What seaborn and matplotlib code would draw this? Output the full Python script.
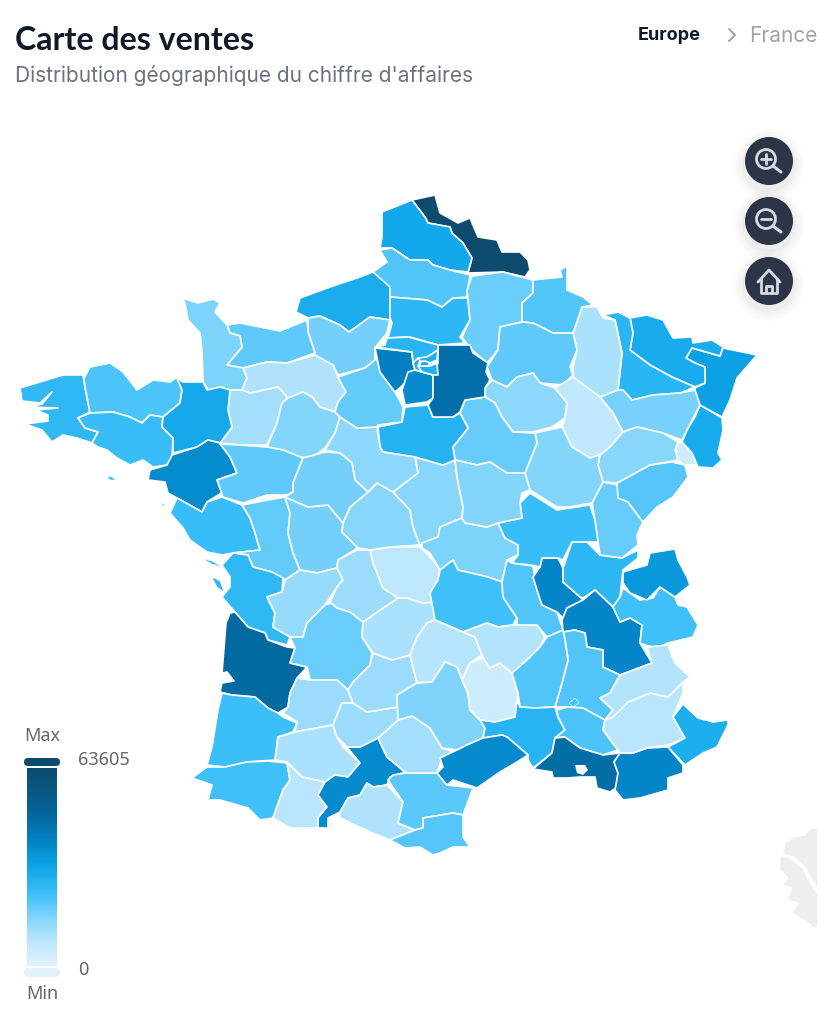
# sales_map.py

import numpy as np
import pandas as pd
import matplotlib.pyplot as plt
from matplotlib.patches import Circle, FancyBboxPatch, Polygon
import seaborn as sns

# Sales per department
departments = ["Nord", "Pas-de-Calais", "Somme", "Oise", "Aisne", "Seine-Maritime", "Eure", "Calvados",
               "Manche", "Orne", "Mayenne", "Sarthe", "Finistere", "Cotes-d'Armor", "Morbihan",
               "Ille-et-Vilaine", "Loire-Atlantique", "Maine-et-Loire", "Vendee", "Deux-Sevres", "Vienne",
               "Charente-Maritime", "Charente", "Gironde", "Dordogne", "Landes", "Pyrenees-Atlantiques",
               "Lot-et-Garonne", "Gers", "Hautes-Pyrenees", "Haute-Garonne", "Ariege", "Aude",
               "Pyrenees-Orientales", "Tarn", "Tarn-et-Garonne", "Lot", "Correze", "Haute-Vienne", "Creuse",
               "Indre", "Cher", "Allier", "Puy-de-Dome", "Cantal", "Aveyron", "Lozere", "Haute-Loire", "Loire",
               "Rhone", "Ain", "Saone-et-Loire", "Jura", "Doubs", "Belfort", "Haut-Rhin", "Bas-Rhin", "Moselle",
               "Meurthe-et-Moselle", "Vosges", "Meuse", "Ardennes", "Marne", "Aube", "Haute-Marne",
               "Haute-Saone", "Cote-d'Or", "Yonne", "Nievre", "Loiret", "Loir-et-Cher", "Indre-et-Loire",
               "Eure-et-Loir", "Yvelines", "Essonne", "Seine-et-Marne", "Val-d'Oise", "Seine-Saint-Denis",
               "Hauts-de-Seine", "Val-de-Marne", "Paris", "Isere", "Savoie", "Haute-Savoie", "Drome", "Ardeche",
               "Gard", "Herault", "Vaucluse", "Bouches-du-Rhone", "Var", "Alpes-de-Haute-Provence",
               "Hautes-Alpes", "Alpes-Maritimes"]
sales = [63605, 31000, 21000, 26000, 18000, 29500, 17000, 19500,
         16000, 9500, 11000, 15000, 25500, 21500, 24000,
         30500, 38000, 19500, 24000, 19000, 17000,
         25500, 12500, 47700, 18000, 23500, 23000,
         12000, 10000, 8000, 38500, 9500, 20000,
         20500, 11000, 12000, 12000, 10000, 12000, 7500,
         14500, 14500, 16000, 23000, 8500, 15500, 4000, 9000, 21000,
         39500, 26000, 24000, 18500, 20500, 4000, 30000, 33000, 30000,
         26500, 16500, 10000, 21000, 19500, 14000, 7000,
         14500, 15000, 18500, 15000, 27500, 14000, 17000,
         19000, 41000, 38500, 45800, 26700, 28000,
         28000, 28000, 30000, 39500, 23000, 35000, 21000, 21000,
         27000, 38500, 21500, 46500, 39500, 8000,
         9000, 29000]
value_min = 0
value_max = 63605

# Department outlines
outlines = {
    "Nord": [(412,200),(435,195),(440,213),(458,223),(470,218),(478,237),(497,240),(502,252),(520,252),(528,260),(530,270),(525,277),(503,272),(468,273),(472,258),(463,243),(452,233),(450,227),(428,223),(425,217)],
    "Pas-de-Calais": [(382,212),(412,200),(425,217),(428,223),(450,227),(452,233),(463,243),(472,258),(468,272),(450,270),(433,265),(428,260),(410,260),(392,248),(380,248),(382,237)],
    "Somme": [(380,250),(392,248),(410,260),(428,260),(433,265),(450,270),(470,275),(467,297),(453,298),(442,307),(427,300),(390,297),(373,272),(387,262)],
    "Oise": [(390,297),(427,300),(442,307),(453,298),(468,298),(470,320),(460,337),(465,343),(438,345),(410,337),(388,338),(392,323),(388,313)],
    "Aisne": [(472,276),(503,272),(533,280),(533,293),(522,303),(522,322),(500,327),(498,350),(487,363),(470,348),(462,337),(470,320),(467,290)],
    "Seine-Maritime": [(296,312),(300,298),(330,287),(357,278),(373,272),(390,287),(390,320),(370,317),(349,332),(340,325),(320,316),(308,318)],
    "Eure": [(308,318),(320,316),(340,325),(349,332),(370,317),(390,320),(387,333),(375,348),(375,360),(365,368),(338,375),(333,365),(315,357),(315,353),(308,332)],
    "Calvados": [(227,325),(240,323),(280,331),(307,320),(308,332),(315,353),(287,363),(267,362),(243,368),(227,365),(242,347),(240,336),(230,333)],
    "Manche": [(182,298),(198,303),(213,299),(220,303),(215,312),(227,325),(230,333),(240,336),(242,347),(227,365),(243,368),(247,378),(242,390),(230,390),(220,387),(210,392),(203,382),(202,350),(200,333),(188,320),(185,303)],
    "Orne": [(243,368),(267,362),(287,363),(315,355),(333,365),(338,377),(346,392),(338,402),(335,412),(320,407),(312,397),(303,392),(288,398),(278,387),(250,393),(242,390),(247,378)],
    "Mayenne": [(230,390),(242,390),(250,393),(278,387),(288,398),(282,403),(277,423),(267,445),(240,445),(220,443),(232,427),(228,410)],
    "Sarthe": [(288,398),(303,392),(312,397),(320,407),(335,412),(340,417),(335,433),(325,448),(312,458),(297,457),(283,450),(267,447),(277,423),(282,403)],
    "Finistere": [(20,388),(63,375),(83,375),(85,387),(90,412),(78,418),(85,428),(98,432),(92,443),(77,438),(63,435),(52,442),(42,430),(25,424),(48,421),(48,415),(36,410),(58,408),(30,407),(42,404),(52,392),(40,403),(22,401)],
    "Cotes-d'Armor": [(84,378),(90,367),(110,363),(123,372),(137,390),(153,380),(170,382),(177,377),(182,390),(180,403),(163,417),(150,415),(142,423),(130,417),(113,412),(90,413),(85,387)],
    "Morbihan": [(78,418),(90,413),(113,412),(130,417),(142,423),(150,415),(163,417),(162,427),(173,438),(172,457),(167,465),(153,467),(143,460),(130,465),(117,458),(107,450),(98,447),(92,443),(98,432),(85,428)],
    "Ille-et-Vilaine": [(177,378),(183,382),(203,382),(207,390),(220,387),(230,390),(228,410),(232,427),(220,443),(208,440),(197,447),(173,453),(173,438),(162,427),(163,417),(180,403),(182,390)],
    "Loire-Atlantique": [(172,455),(197,447),(208,440),(220,443),(230,457),(237,473),(217,480),(223,492),(207,502),(202,512),(195,508),(177,498),(168,493),(165,482),(148,480),(150,470),(167,465)],
    "Maine-et-Loire": [(220,444),(240,445),(267,447),(283,450),(303,458),(293,483),(293,492),(287,495),(267,495),(243,503),(223,497),(217,480),(237,473),(230,457)],
    "Vendee": [(170,513),(177,498),(195,508),(202,512),(207,502),(222,497),(242,505),(250,518),(255,533),(260,550),(233,553),(222,555),(207,552),(190,540),(183,528)],
    "Deux-Sevres": [(242,505),(268,500),(285,497),(290,513),(288,533),(293,553),(300,570),(285,580),(272,572),(253,567),(248,555),(233,553),(260,550),(255,533),(250,518)],
    "Vienne": [(285,497),(308,507),(328,505),(343,523),(342,532),(358,548),(338,560),(337,568),(317,573),(300,570),(293,553),(288,533),(290,513)],
    "Charente-Maritime": [(233,553),(248,555),(253,567),(272,572),(283,578),(282,592),(267,597),(275,613),(273,627),(290,637),(287,645),(268,640),(265,633),(248,627),(235,612),(222,597),(230,587),(230,577),(222,565)],
    "Charente": [(267,597),(282,592),(285,580),(300,570),(317,573),(337,568),(343,580),(337,587),(325,605),(307,623),(303,637),(290,637),(273,627),(275,613)],
    "Gironde": [(230,613),(235,612),(248,627),(265,633),(268,640),(287,647),(295,648),(290,663),(307,667),(297,678),(290,693),(288,707),(278,713),(268,708),(255,697),(232,695),(220,692),(222,683),(234,681),(227,672),(222,673),(226,623)],
    "Dordogne": [(290,637),(303,637),(307,623),(325,605),(332,603),(337,608),(350,612),(363,622),(362,637),(372,653),(370,665),(353,682),(348,690),(337,680),(310,680),(307,667),(290,663),(295,648)],
    "Landes": [(222,693),(232,695),(255,697),(268,708),(278,713),(283,717),(297,723),(293,732),(278,737),(275,760),(247,762),(225,767),(207,765),(212,747),(218,710)],
    "Pyrenees-Atlantiques": [(207,767),(225,767),(247,762),(268,761),(287,763),(290,780),(283,790),(273,818),(260,820),(248,808),(220,800),(208,800),(212,785),(192,778)],
    "Lot-et-Garonne": [(283,713),(288,707),(290,693),(297,678),(310,680),(337,680),(348,690),(353,703),(342,703),(333,725),(295,732),(297,722)],
    "Gers": [(278,737),(295,732),(333,725),(337,737),(343,747),(360,763),(348,777),(335,775),(325,782),(302,777),(287,762),(275,760)],
    "Hautes-Pyrenees": [(287,763),(302,777),(325,782),(318,795),(327,807),(318,818),(318,828),(290,828),(273,818),(283,790),(290,780)],
    "Haute-Garonne": [(347,747),(360,747),(378,738),(387,757),(405,772),(390,777),(387,785),(373,787),(367,783),(360,795),(348,798),(340,812),(328,818),(328,828),(318,828),(318,818),(327,807),(318,795),(325,782),(335,775),(348,777),(360,763)],
    "Ariege": [(340,812),(348,798),(360,795),(367,783),(373,787),(387,785),(403,802),(398,823),(415,830),(390,840),(370,832),(340,818)],
    "Aude": [(388,780),(393,775),(407,773),(437,773),(447,785),(473,788),(463,815),(453,813),(423,818),(423,828),(415,830),(398,823),(403,802)],
    "Pyrenees-Orientales": [(423,818),(453,813),(463,815),(463,837),(470,847),(453,847),(440,853),(433,855),(420,847),(405,848),(390,840),(415,830),(423,828)],
    "Tarn": [(378,738),(398,720),(412,716),(430,728),(442,748),(457,753),(442,758),(437,773),(407,773),(405,772),(387,757)],
    "Tarn-et-Garonne": [(333,725),(342,703),(353,703),(367,712),(380,710),(397,707),(400,718),(398,720),(378,738),(360,747),(347,747),(337,737)],
    "Lot": [(348,690),(353,682),(370,665),(373,653),(392,660),(410,655),(417,683),(397,695),(397,707),(380,710),(367,712),(353,703)],
    "Correze": [(363,622),(380,610),(398,598),(407,598),(423,603),(433,602),(435,620),(427,623),(417,637),(410,655),(392,660),(373,653),(362,637)],
    "Haute-Vienne": [(337,587),(343,580),(337,568),(338,560),(357,550),(370,550),(373,563),(383,588),(398,598),(380,610),(363,622),(350,612),(337,608),(330,602)],
    "Creuse": [(370,550),(390,547),(420,547),(433,560),(440,570),(438,580),(430,593),(433,602),(423,603),(407,598),(398,598),(383,588),(373,563)],
    "Indre": [(368,492),(377,483),(393,492),(410,510),(413,527),(420,545),(390,547),(370,550),(358,548),(342,532),(343,523),(350,507)],
    "Cher": [(415,457),(443,465),(455,460),(457,477),(463,507),(462,518),(440,527),(438,537),(420,545),(413,527),(410,510),(393,492),(418,473)],
    "Allier": [(422,543),(438,537),(440,527),(462,518),(465,523),(487,527),(498,523),(505,538),(518,545),(518,555),(507,560),(502,582),(488,577),(458,570),(453,560),(440,570),(430,553),(422,548)],
    "Puy-de-Dome": [(440,570),(453,560),(458,570),(488,577),(502,582),(503,597),(517,618),(513,625),(498,627),(487,623),(463,632),(435,620),(430,593),(438,580)],
    "Cantal": [(410,655),(417,637),(427,623),(435,620),(463,632),(475,637),(482,655),(470,663),(462,680),(457,667),(445,662),(432,682),(417,683)],
    "Aveyron": [(417,683),(432,682),(445,662),(457,667),(462,680),(468,693),(470,710),(480,720),(485,728),(483,738),(467,745),(457,750),(442,748),(430,728),(412,716),(398,720),(397,695)],
    "Lozere": [(462,680),(470,663),(483,658),(490,668),(500,663),(512,673),(518,693),(515,717),(495,722),(480,720),(470,710),(468,693)],
    "Haute-Loire": [(463,632),(487,623),(498,627),(513,625),(537,625),(545,637),(540,647),(527,660),(512,673),(500,663),(490,668),(483,658),(482,655),(475,637)],
    "Loire": [(502,582),(507,560),(512,563),(533,566),(537,590),(542,605),(557,612),(563,630),(547,637),(537,625),(517,625),(517,618),(503,597)],
    "Rhone": [(542,558),(558,558),(563,568),(563,582),(580,597),(583,600),(567,608),(563,618),(557,612),(542,605),(537,590),(533,577),(540,567)],
    "Ain": [(572,542),(587,542),(600,555),(622,558),(638,550),(638,558),(623,570),(620,597),(613,607),(595,590),(583,598),(580,597),(563,582),(563,568)],
    "Saone-et-Loire": [(498,523),(522,518),(520,503),(530,493),(557,510),(590,505),(595,520),(600,542),(587,542),(572,542),(563,560),(558,558),(542,558),(540,567),(530,565),(512,563),(518,555),(518,545),(505,538)],
    "Jura": [(592,503),(603,482),(618,485),(623,498),(628,502),(643,522),(637,535),(638,545),(622,558),(600,555),(595,520)],
    "Doubs": [(617,483),(650,465),(672,462),(685,465),(688,477),(673,497),(657,507),(643,522),(628,502),(618,498)],
    "Belfort": [(675,443),(682,442),(692,453),(697,465),(685,465),(677,460)],
    "Haut-Rhin": [(700,405),(722,418),(723,430),(718,453),(722,460),(713,468),(698,467),(692,453),(682,442),(687,430),(695,417)],
    "Bas-Rhin": [(723,348),(757,355),(737,378),(730,400),(722,417),(700,405),(695,398),(695,388),(705,383),(705,367),(695,363),(686,358),(692,348),(720,356)],
    "Moselle": [(630,318),(647,315),(663,320),(673,338),(692,337),(693,343),(712,340),(723,347),(720,356),(692,348),(686,358),(695,363),(705,367),(705,383),(695,387),(672,377),(650,365),(630,350),(633,333)],
    "Meurthe-et-Moselle": [(603,315),(618,312),(630,318),(633,333),(630,350),(650,365),(672,377),(695,387),(680,393),(653,395),(632,400),(623,390),(618,390),(622,353),(615,320)],
    "Vosges": [(600,397),(618,390),(623,390),(632,400),(653,395),(680,393),(695,390),(700,405),(687,430),(682,440),(663,433),(637,427),(623,432),(613,413)],
    "Meuse": [(582,307),(597,307),(603,318),(615,320),(622,353),(618,390),(600,397),(573,380),(573,367),(577,350),(573,333)],
    "Ardennes": [(533,280),(562,277),(560,270),(567,266),(567,290),(583,297),(593,305),(582,307),(573,333),(553,333),(533,323),(522,322),(522,303),(533,293)],
    "Marne": [(500,327),(522,322),(533,323),(553,333),(573,333),(577,350),(570,367),(573,375),(563,385),(540,383),(533,373),(517,377),(507,387),(492,380),(487,367),(498,350)],
    "Aube": [(485,388),(492,380),(507,387),(517,377),(533,373),(540,383),(555,388),(567,403),(565,418),(552,427),(533,432),(513,432),(502,417),(495,403),(485,397)],
    "Haute-Marne": [(555,388),(573,377),(600,397),(613,413),(623,432),(610,447),(600,455),(590,458),(572,447),(562,427),(565,418),(567,403)],
    "Haute-Saone": [(623,432),(637,427),(663,433),(678,442),(675,450),(678,460),(650,465),(617,483),(603,482),(598,465),(600,455),(610,447)],
    "Cote-d'Or": [(535,433),(562,427),(572,447),(590,458),(600,455),(598,465),(603,482),(592,503),(570,507),(557,507),(530,490),(525,473),(537,443)],
    "Yonne": [(465,400),(485,397),(495,403),(502,417),(513,432),(535,433),(537,443),(525,473),(507,473),(490,462),(477,465),(455,460),(453,447),(468,428),(460,413)],
    "Nievre": [(455,460),(477,465),(490,462),(507,473),(525,473),(530,490),(522,493),(520,503),(522,518),(498,523),(487,527),(465,523),(462,518),(463,507),(457,477)],
    "Loiret": [(378,427),(402,422),(405,407),(428,405),(433,417),(453,417),(460,413),(468,428),(453,447),(455,460),(443,465),(415,457),(383,452),(380,447)],
    "Loir-et-Cher": [(325,450),(335,433),(340,417),(357,428),(377,427),(380,447),(383,452),(415,457),(418,473),(393,492),(377,483),(368,492),(355,480),(352,463),(340,453)],
    "Indre-et-Loire": [(303,458),(325,452),(340,453),(352,463),(355,480),(368,492),(350,507),(343,523),(328,505),(308,507),(285,497),(293,492),(293,483)],
    "Eure-et-Loir": [(338,377),(365,368),(375,360),(375,350),(380,372),(395,392),(403,407),(402,422),(378,425),(377,427),(357,428),(340,417),(335,412),(338,402),(346,392)],
    "Yvelines": [(375,348),(412,352),(413,363),(415,370),(403,385),(395,392),(380,372)],
    "Essonne": [(408,372),(415,370),(433,375),(433,398),(427,402),(405,405),(402,390)],
    "Seine-et-Marne": [(438,345),(470,345),(473,353),(488,363),(486,372),(490,380),(485,388),(485,397),(465,400),(460,412),(453,417),(433,417),(428,405),(433,398),(433,375),(438,363)],
    "Val-d'Oise": [(387,338),(408,337),(438,345),(438,350),(427,357),(413,363),(412,352),(375,347),(385,345)],
    "Seine-Saint-Denis": [(418,358),(427,357),(438,350),(437,360),(430,363),(420,361)],
    "Hauts-de-Seine": [(413,363),(418,358),(420,361),(418,366),(422,372),(415,370)],
    "Val-de-Marne": [(422,372),(418,366),(430,366),(437,363),(438,375),(433,375)],
    "Paris": [(420,362),(425,361),(430,363),(428,366),(420,366)],
    "Isere": [(595,590),(613,607),(620,622),(630,618),(642,625),(640,643),(652,663),(620,675),(603,667),(603,650),(587,647),(585,633),(575,630),(563,632),(562,620),(567,608),(583,600)],
    "Savoie": [(613,607),(620,597),(623,588),(640,600),(653,598),(660,587),(675,597),(678,605),(687,607),(698,625),(693,637),(668,643),(657,648),(645,645),(640,643),(642,625),(630,618),(620,622)],
    "Haute-Savoie": [(623,572),(647,565),(650,553),(675,549),(678,560),(687,577),(690,585),(675,597),(660,587),(647,600),(630,593),(623,583)],
    "Drome": [(563,632),(575,630),(585,633),(587,647),(603,650),(603,667),(620,675),(610,693),(600,698),(613,710),(605,720),(583,708),(567,707),(555,707),(562,683),(568,660),(565,640)],
    "Ardeche": [(547,637),(563,630),(565,640),(568,660),(562,683),(555,707),(535,708),(520,707),(518,693),(512,673),(527,660),(540,647)],
    "Gard": [(480,720),(495,722),(515,717),(517,700),(520,707),(535,708),(555,707),(558,717),(565,730),(555,738),(552,753),(533,768),(528,760),(528,755),(507,737),(502,735),(483,738),(485,728)],
    "Herault": [(440,758),(457,750),(467,745),(483,738),(502,735),(507,737),(528,755),(517,762),(500,772),(477,788),(453,780),(447,785),(437,773),(443,767)],
    "Vaucluse": [(557,710),(567,707),(583,708),(605,720),(603,730),(618,750),(603,755),(580,748),(565,737),(555,738),(565,730),(558,717)],
    "Bouches-du-Rhone": [(533,769),(552,753),(555,738),(565,737),(580,748),(603,755),(620,753),(614,762),(618,773),(617,787),(610,792),(597,788),(595,777),(580,777),(567,778),(553,778),(552,772)],
    "Var": [(620,753),(633,753),(647,748),(668,747),(683,765),(683,773),(668,778),(668,790),(640,798),(623,800),(615,790),(618,773),(614,762)],
    "Alpes-de-Haute-Provence": [(605,720),(613,717),(628,702),(650,693),(668,697),(683,682),(683,693),(673,717),(685,738),(668,745),(647,748),(633,753),(620,753),(603,730)],
    "Hautes-Alpes": [(620,675),(652,663),(647,647),(668,645),(675,663),(690,677),(683,682),(668,697),(650,693),(628,702),(613,717),(605,720),(613,710),(600,698),(610,693)],
    "Alpes-Maritimes": [(683,704),(698,718),(713,722),(728,720),(728,725),(717,747),(703,753),(685,765),(668,747),(685,738),(673,717)],
}

# Islands and enclaves, with the department they belong to
islands = [
    ("Morbihan", [(107,476),(112,477),(116,480),(110,480)]),
    ("Charente-Maritime", [(212,577),(220,581),(224,592),(217,587)]),
    ("Charente-Maritime", [(203,559),(212,561),(222,567),(212,564)]),
    ("Vendee", [(161,503),(164,504),(164,507)]),
    ("Vaucluse", [(569,703),(575,698),(579,703),(573,707)]),
]
etang_berre = [(575,765),(585,765),(588,770),(583,775),(577,773)]
corsica = [
    [(818,828),(810,828),(805,835),(793,837),(785,843),(783,852),(780,853),(793,857),(805,867),(812,880),(818,890)],
    [(780,855),(790,858),(803,868),(810,882),(818,895),(818,928),(813,928),(808,923),(792,913),(798,903),(787,900),(792,888),(782,885),(788,878),(780,870),(780,863)],
]

# Colour scale of the visual map, bottom to top
scale_colors = ["#e0f2fe", "#bae6fd", "#7dd3fc", "#38bdf8", "#0ea5e9", "#0284c7", "#0369a1", "#075985", "#0c4a6e"]

df = pd.DataFrame({"department": departments, "sales": sales})
sales_by_department = dict(zip(departments, sales))

sns.set_theme(style="white")
plt.rcParams["font.family"] = ["Inter", "DejaVu Sans"]
cmap = sns.blend_palette(scale_colors, n_colors=256, as_cmap=True)


def sales_color(value):
    return cmap((value - value_min) / (value_max - value_min))


fig = plt.figure(figsize=(8.38, 10.11), dpi=100, facecolor="white")
ax = fig.add_axes([0, 0, 1, 1])
ax.set_xlim(0, 838)
ax.set_ylim(1011, 0)
ax.axis("off")

# Departments
for row in df.itertuples():
    ax.add_patch(Polygon(outlines[row.department], closed=True, facecolor=sales_color(row.sales),
                         edgecolor="white", linewidth=1.2, joinstyle="round"))
for name, part in islands:
    ax.add_patch(Polygon(part, closed=True, facecolor=sales_color(sales_by_department[name]),
                         edgecolor="white", linewidth=0.4))
ax.add_patch(Polygon(etang_berre, closed=True, facecolor="white", edgecolor="none"))
for part in corsica:
    ax.add_patch(Polygon(part, closed=True, facecolor="#eeeeee", edgecolor="white", linewidth=1.0))

# Header
ax.text(15, 40, "Carte des ventes", fontsize=23.1, family=["Lato", "DejaVu Sans"], fontweight="bold",
        color="#111827", va="center", ha="left")
ax.text(15, 75, "Distribution géographique du chiffre d'affaires", fontsize=15.05, color="#6b7280",
        va="center", ha="left")
ax.text(638, 35, "Europe", fontsize=13, fontweight="bold", color="#111827", va="center", ha="left")
ax.plot([729, 735, 729], [29, 35, 41], color="#9ca3af", lw=1.4)
ax.text(749, 36, "France", fontsize=15, color="#9ca3af", va="center", ha="left")

# Zoom and home buttons
button_color = "#2d3446"
icon_color = "#d5dae5"
for cy in [161, 221, 281]:
    for grow, alpha in zip([12, 9, 6, 3], [0.012, 0.016, 0.02, 0.025]):
        ax.add_patch(Circle((769, cy + 4), 24 + grow, color="black", alpha=alpha, lw=0))
    ax.add_patch(Circle((769, cy), 24, color=button_color, lw=0))

for cy in [159, 219]:
    ax.add_patch(Circle((766, cy), 9.5, fill=False, edgecolor=icon_color, lw=2))
    ax.plot([773, 781], [cy + 7, cy + 13], color=icon_color, lw=2.2, solid_capstyle="round")
    ax.plot([761, 771], [cy, cy], color=icon_color, lw=2, solid_capstyle="round")
ax.plot([766, 766], [154, 164], color=icon_color, lw=2, solid_capstyle="round")

ax.plot([758, 769, 780], [282, 270, 282], color=icon_color, lw=2, solid_joinstyle="round", solid_capstyle="round")
ax.plot([761, 761, 777, 777], [279, 293, 293, 279], color=icon_color, lw=2, solid_joinstyle="round")
ax.plot([766, 766, 772, 772], [293, 286, 286, 293], color=icon_color, lw=2, solid_joinstyle="round")

# Legend gradient
legend_ax = fig.add_axes([27 / 838, 1 - 966 / 1011, 30 / 838, 198 / 1011])
gradient = np.linspace(value_max, value_min, 200).reshape(-1, 1)
sns.heatmap(gradient, ax=legend_ax, cmap=cmap, vmin=value_min, vmax=value_max, cbar=False,
            xticklabels=False, yticklabels=False)
ax.add_patch(FancyBboxPatch((24, 758), 36, 8, boxstyle="round,pad=0,rounding_size=4",
                            facecolor=scale_colors[-1], edgecolor="none"))
ax.add_patch(FancyBboxPatch((24, 968), 36, 9, boxstyle="round,pad=0,rounding_size=4",
                            facecolor=scale_colors[0], edgecolor="none"))

legend_font = ["Noto Sans", "DejaVu Sans"]
ax.text(42, 736, "Max", fontsize=13, family=legend_font, color="#666666", va="center", ha="center")
ax.text(42, 994, "Min", fontsize=13, family=legend_font, color="#666666", va="center", ha="center")
ax.text(78, 760, str(value_max), fontsize=13, family=legend_font, color="#666666", va="center", ha="left")
ax.text(78, 970, str(value_min), fontsize=13, family=legend_font, color="#666666", va="center", ha="left")

plt.savefig("out.png", dpi=100)
